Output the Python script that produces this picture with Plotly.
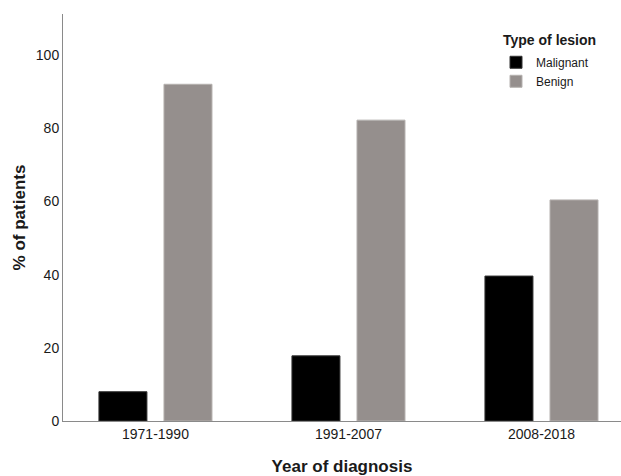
import plotly.graph_objects as go

categories = ["1971-1990", "1991-2007", "2008-2018"]
malignant = [8.0, 17.8, 39.6]
benign = [92.0, 82.2, 60.4]
y_ticks = [0, 20, 40, 60, 80, 100]

FONT = "Liberation Sans, Arial, sans-serif"
TXT = "#1a1a1a"

fig = go.Figure()
fig.add_trace(go.Bar(x=categories, y=malignant, name="Malignant",
                     marker=dict(color="#000000", line=dict(color="#333333", width=1))))
fig.add_trace(go.Bar(x=categories, y=benign, name="Benign",
                     marker=dict(color="#958f8d", line=dict(color="#b5b1af", width=1))))

fig.update_layout(
    width=621, height=476,
    margin=dict(l=63, r=0, t=14, b=55),
    plot_bgcolor="white", paper_bgcolor="white",
    barmode="group", bargap=0.326, bargroupgap=0.262,
    font=dict(family=FONT, color=TXT, size=14),
    showlegend=True,
    legend=dict(x=0.776, y=0.917, xanchor="left", yanchor="top",
                font=dict(size=12, family=FONT, color=TXT),
                bgcolor="rgba(0,0,0,0)", traceorder="normal"),
    annotations=[dict(text="<b>Type of lesion</b>", xref="paper", yref="paper",
                      x=0.959, y=0.935, xanchor="right", yanchor="middle",
                      showarrow=False, font=dict(size=14, family=FONT, color=TXT))],
)
fig.update_xaxes(
    type="category", range=[-0.479, 2.412], automargin=False,
    showline=True, linecolor="#8a8a8a", linewidth=1,
    ticks="", showgrid=False, zeroline=False,
    tickfont=dict(size=14, family=FONT, color=TXT),
    title=dict(text="<b>Year of diagnosis</b>", font=dict(size=17, family=FONT, color=TXT), standoff=20),
)
fig.update_yaxes(
    range=[0, 111.2], tickvals=y_ticks, automargin=False,
    showline=True, linecolor="#8a8a8a", linewidth=1,
    ticks="", showgrid=False, zeroline=False,
    tickfont=dict(size=14, family=FONT, color=TXT),
    title=dict(text="<b>% of patients</b>", font=dict(size=17, family=FONT, color=TXT), standoff=5),
)

fig.write_html("out.html", config={"displayModeBar": False},
               post_script="document.body.style.margin='0';")
